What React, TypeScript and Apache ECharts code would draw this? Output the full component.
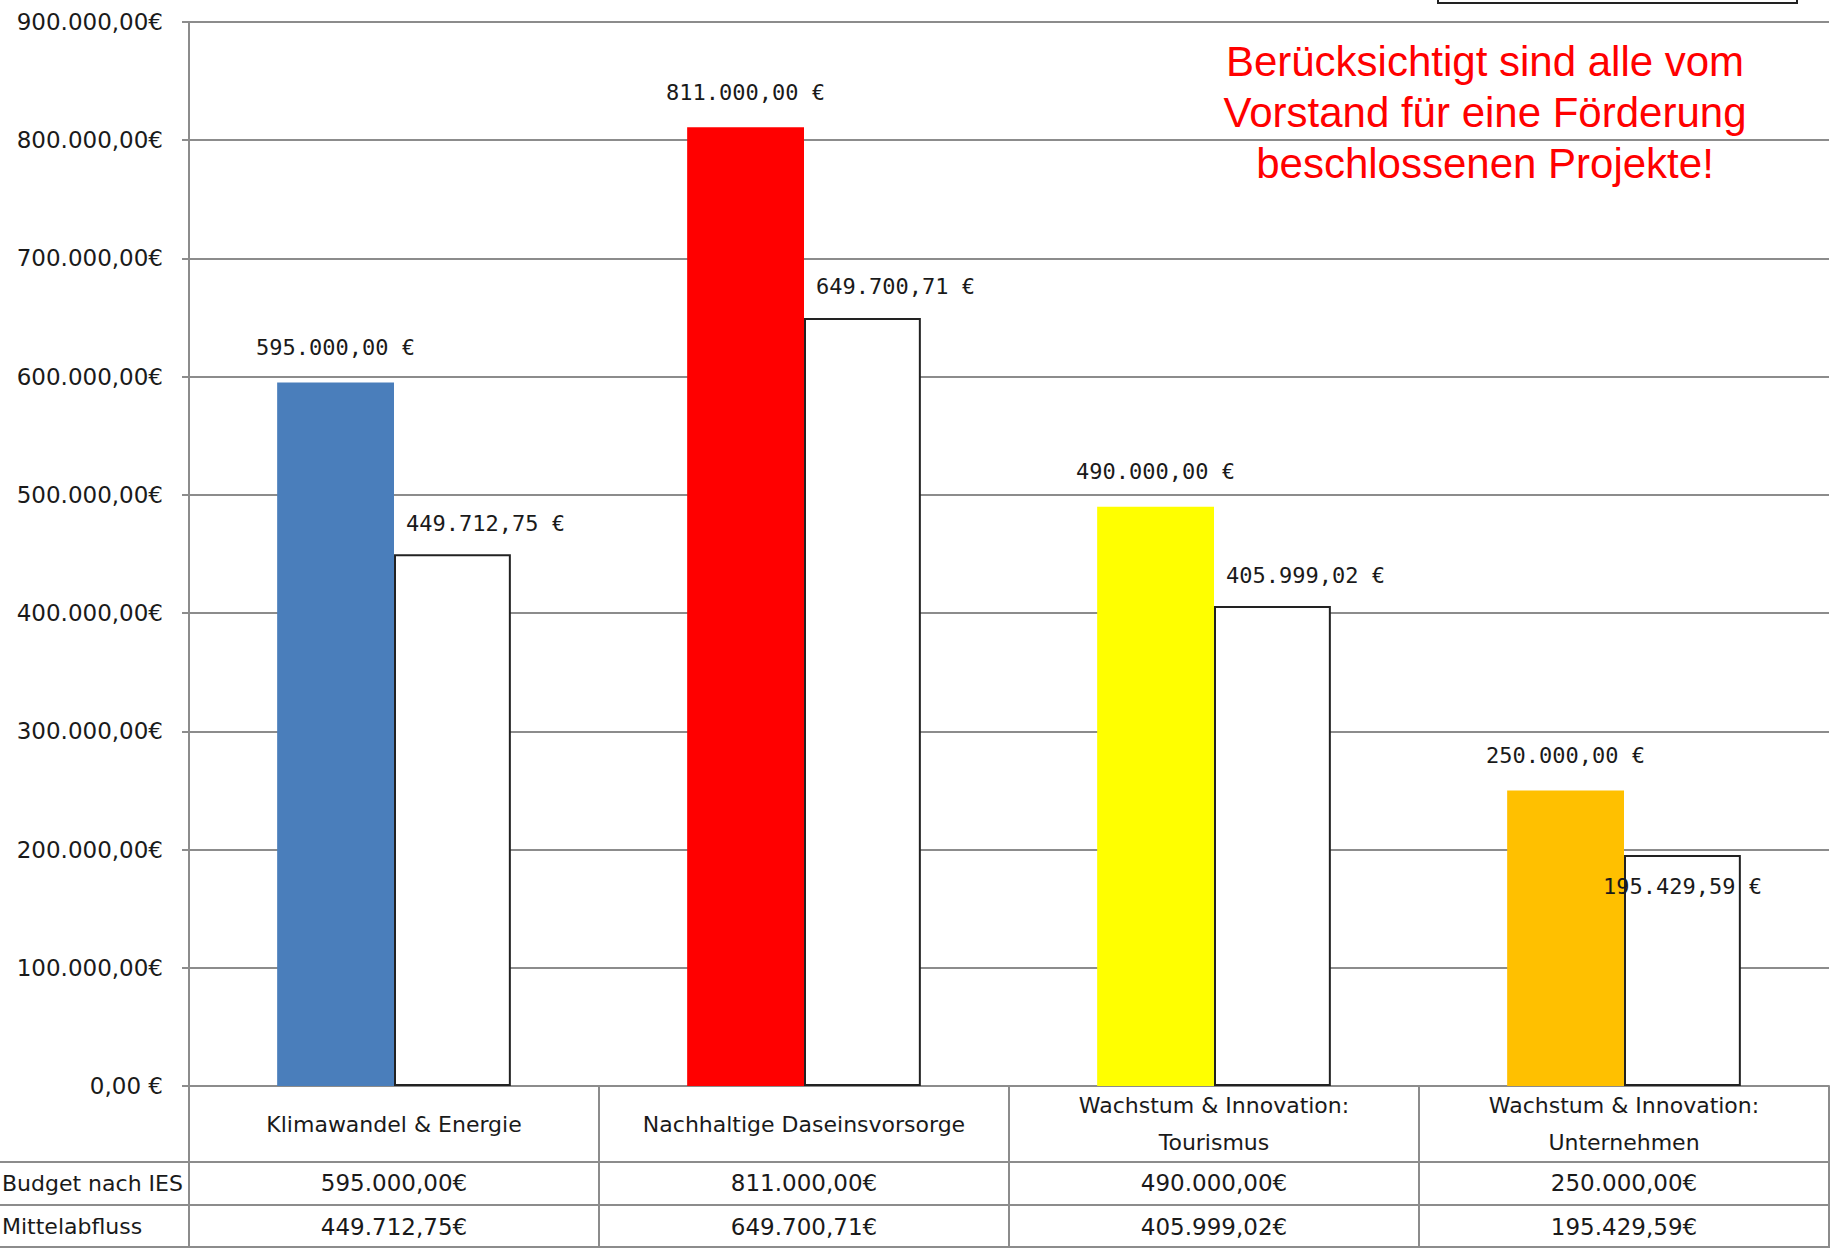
import React, { useEffect, useRef } from "react";
import * as echarts from "echarts";

const categories = [
  "Klimawandel & Energie",
  "Nachhaltige Daseinsvorsorge",
  "Wachstum & Innovation:\nTourismus",
  "Wachstum & Innovation:\nUnternehmen",
];
const budget = [595000, 811000, 490000, 250000];
const abfluss = [449712.75, 649700.71, 405999.02, 195429.59];
const budgetColors = ["#4A7EBB", "#FF0000", "#FFFF00", "#FFC000"];
const rowLabels = ["Budget nach IES", "Mittelabfluss"];
const noteLines = [
  "Berücksichtigt sind alle vom",
  "Vorstand für eine Förderung",
  "beschlossenen Projekte!",
];
const yMin = 0;
const yMax = 900000;
const yStep = 100000;

function fmt(v: number, sep: string): string {
  const [i, d] = v.toFixed(2).split(".");
  const ii = i.replace(/\B(?=(\d{3})+(?!\d))/g, ".");
  return ii + "," + d + sep + "€";
}

const W = 1831;
const H = 1248;
const GRID_LEFT = 189;
const GRID_TOP = 22;
const GRID_RIGHT = 2;
const GRID_BOTTOM = 162;
const GRAY = "#8c8c8c";
const TXT = "#1a1a1a";
const FONT = "DejaVu Sans";
const MONO = "DejaVu Sans Mono";

export default function App() {
  const ref = useRef<HTMLDivElement>(null);
  useEffect(() => {
    if (!ref.current) return;
    const chart = echarts.init(ref.current, null, { renderer: "svg" });
    const zeroY = H - GRID_BOTTOM;
    const row1 = zeroY + 76;
    const row2 = zeroY + 119;
    const option: any = {
      animation: false,
      backgroundColor: "#ffffff",
      grid: { left: GRID_LEFT, top: GRID_TOP, right: GRID_RIGHT, bottom: GRID_BOTTOM },
      xAxis: [
        {
          type: "category",
          data: categories,
          position: "bottom",
          axisLine: { show: true, lineStyle: { color: GRAY, width: 2 } },
          axisTick: { show: true, length: GRID_BOTTOM, alignWithLabel: false, lineStyle: { color: GRAY, width: 2 } },
          axisLabel: {
            interval: 0,
            margin: 38,
            verticalAlign: "middle",
            lineHeight: 37,
            fontFamily: FONT,
            fontSize: 22,
            color: TXT,
          },
        },
        {
          type: "category",
          data: budget.map((v) => fmt(v, "")),
          position: "bottom",
          axisLine: { show: false },
          axisTick: { show: false },
          axisLabel: { interval: 0, margin: 97, verticalAlign: "middle", fontFamily: FONT, fontSize: 23, color: TXT },
        },
        {
          type: "category",
          data: abfluss.map((v) => fmt(v, "")),
          position: "bottom",
          axisLine: { show: false },
          axisTick: { show: false },
          axisLabel: { interval: 0, margin: 141, verticalAlign: "middle", fontFamily: FONT, fontSize: 23, color: TXT },
        },
      ],
      yAxis: {
        type: "value",
        min: yMin,
        max: yMax,
        interval: yStep,
        axisLine: { show: true, lineStyle: { color: GRAY, width: 2 } },
        axisTick: { show: true, length: 7, lineStyle: { color: GRAY, width: 2 } },
        splitLine: { show: true, lineStyle: { color: GRAY, width: 2 } },
        axisLabel: {
          margin: 26,
          fontFamily: FONT,
          fontSize: 23,
          color: TXT,
          formatter: (v: number) => fmt(v, v === 0 ? " " : ""),
        },
      },
      series: [
        {
          name: "Budget nach IES",
          type: "bar",
          xAxisIndex: 0,
          barGap: "0%",
          barCategoryGap: "43%",
          data: budget.map((v, i) => ({ value: v, itemStyle: { color: budgetColors[i] } })),
          label: {
            show: true,
            position: "top",
            distance: 24,
            fontFamily: MONO,
            fontSize: 22,
            color: TXT,
            formatter: (p: any) => fmt(p.value, " "),
          },
        },
        {
          name: "Mittelabfluss",
          type: "bar",
          xAxisIndex: 0,
          barGap: "0%",
          barCategoryGap: "43%",
          itemStyle: { color: "#ffffff", borderColor: "#222222", borderWidth: 2 },
          data: abfluss.map((v, i) =>
            i === abfluss.length - 1
              ? { value: v, label: { position: "insideTop", distance: 21, offset: [0, 0] } }
              : { value: v }
          ),
          label: {
            show: true,
            position: "top",
            distance: 20,
            offset: [33, 0],
            fontFamily: MONO,
            fontSize: 22,
            color: TXT,
            formatter: (p: any) => fmt(p.value, " "),
          },
        },
      ],
      graphic: [
        {
          type: "rect",
          shape: { x: 1438, y: -12, width: 359, height: 15 },
          style: { fill: "#ffffff", stroke: "#222222", lineWidth: 2 },
          z: 10,
        },
        {
          type: "text",
          x: 1485,
          y: 61 - 25.5,
          style: {
            text: noteLines.join("\n"),
            fill: "#ff0000",
            font: '42px "Liberation Sans", Arial, sans-serif',
            align: "center",
            verticalAlign: "top",
            lineHeight: 51,
          },
          z: 10,
        },
        {
          type: "line",
          shape: { x1: 0, y1: row1, x2: W - GRID_RIGHT, y2: row1 },
          style: { stroke: GRAY, lineWidth: 2 },
        },
        {
          type: "line",
          shape: { x1: 0, y1: row2, x2: W - GRID_RIGHT, y2: row2 },
          style: { stroke: GRAY, lineWidth: 2 },
        },
        {
          type: "line",
          shape: { x1: 0, y1: H - 1, x2: W - GRID_RIGHT, y2: H - 1 },
          style: { stroke: GRAY, lineWidth: 2 },
        },
        {
          type: "text",
          x: 2,
          y: (row1 + row2) / 2,
          style: { text: rowLabels[0], fill: TXT, font: `22px "${FONT}"`, align: "left", verticalAlign: "middle" },
        },
        {
          type: "text",
          x: 2,
          y: (row2 + H) / 2,
          style: { text: rowLabels[1], fill: TXT, font: `22px "${FONT}"`, align: "left", verticalAlign: "middle" },
        },
      ],
    };
    chart.setOption(option);
    return () => chart.dispose();
  }, []);
  return (
    <div
      ref={ref}
      style={{ position: "absolute", left: 0, top: 0, width: W, height: H, background: "#fff" }}
    />
  );
}
